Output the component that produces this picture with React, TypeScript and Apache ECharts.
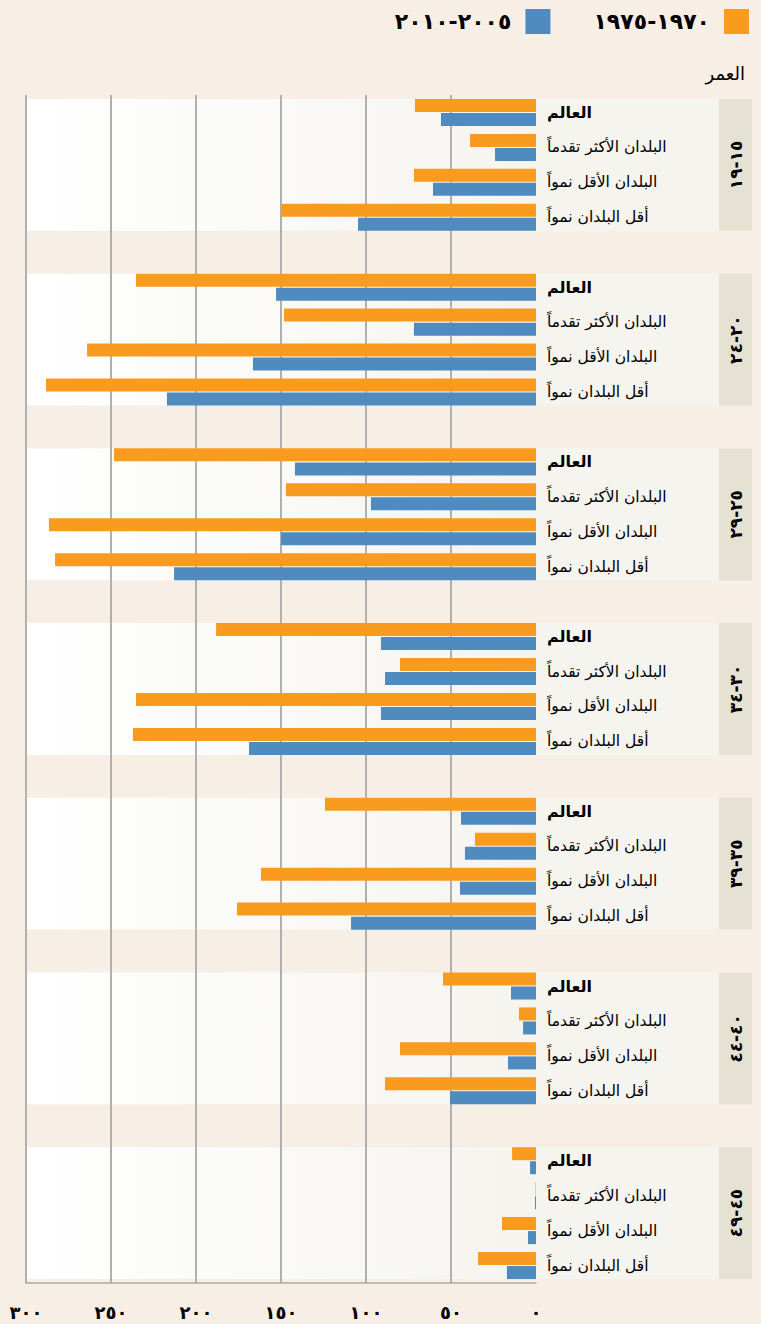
import React, { useEffect, useRef } from "react";
import * as echarts from "echarts";

const W = 761;
const H = 1324;

// Data
const categories = [
  "العالم",
  "البلدان الأكثر تقدماً",
  "البلدان الأقل نمواً",
  "أقل البلدان نمواً",
];
const ageStart = [15, 20, 25, 30, 35, 40, 45];
const ageEnd = [19, 24, 29, 34, 39, 44, 49];
const period1Name = "١٩٧٥\u200E-\u200E١٩٧٠";
const period2Name = "٢٠١٠\u200E-\u200E٢٠٠٥";
// per age group: [world, more developed, less developed, least developed]
const values1970 = [
  [71.2, 38.8, 71.8, 150.0],
  [235.3, 148.2, 264.1, 288.2],
  [248.2, 147.1, 286.5, 282.9],
  [188.2, 80.0, 235.3, 237.1],
  [124.1, 35.9, 161.8, 175.9],
  [54.7, 10.0, 80.0, 88.8],
  [14.1, 0.3, 20.0, 34.1],
];
const values2005 = [
  [55.9, 24.1, 60.6, 104.7],
  [152.9, 71.8, 166.5, 217.1],
  [141.8, 97.1, 150.0, 212.9],
  [91.2, 88.8, 91.2, 168.8],
  [44.1, 41.8, 44.7, 108.8],
  [14.7, 7.6, 16.5, 50.6],
  [3.5, 0.6, 4.7, 17.1],
];
const xTicks = [0, 50, 100, 150, 200, 250, 300];
const axisTitle = "العمر";

const AR_DIGITS = "٠١٢٣٤٥٦٧٨٩";
const toAr = (n: number | string) =>
  String(n).replace(/[0-9]/g, (d) => AR_DIGITS[Number(d)]);

// layout
const GRID_LEFT = 26;
const GRID_RIGHT_X = 536;
const GRID_TOP = 95;
const GRID_BOTTOM = 41;
const LABEL_END = 719;
const AGE_END = 752;
const FONT = "DejaVu Sans";

export default function App() {
  const ref = useRef<HTMLDivElement>(null);
  useEffect(() => {
    document.body.style.margin = "0";
    const chart = echarts.init(ref.current!, null, { renderer: "svg" });

    const rows: string[] = [];
    const d1: (number | null)[] = [];
    const d2: (number | null)[] = [];
    ageStart.forEach((_, g) => {
      categories.forEach((c, k) => {
        rows.push(c);
        d1.push(values1970[g][k]);
        d2.push(values2005[g][k]);
      });
      if (g < ageStart.length - 1) {
        rows.push(" ".repeat(g + 1));
        d1.push(null);
        d2.push(null);
      }
    });

    const gridH = H - GRID_TOP - GRID_BOTTOM;
    const slot = gridH / rows.length;

    const graphics: any[] = [];
    ageStart.forEach((s, g) => {
      const y0 = GRID_TOP + g * 5 * slot + 4;
      const h = 4 * slot - 8;
      graphics.push({
        type: "rect",
        z: -10,
        shape: { x: GRID_LEFT, y: y0, width: GRID_RIGHT_X - GRID_LEFT, height: h },
        style: {
          fill: new echarts.graphic.LinearGradient(0, 0, 1, 0, [
            { offset: 0, color: "#ffffff" },
            { offset: 1, color: "#f5f4ef" },
          ]),
        },
        silent: true,
      });
      graphics.push({
        type: "rect",
        z: -10,
        shape: { x: GRID_RIGHT_X, y: y0, width: LABEL_END - GRID_RIGHT_X, height: h },
        style: { fill: "#f5f4ef" },
        silent: true,
      });
      graphics.push({
        type: "rect",
        z: -10,
        shape: { x: LABEL_END, y: y0, width: AGE_END - LABEL_END, height: h },
        style: { fill: "#e5e2d3" },
        silent: true,
      });
      graphics.push({
        type: "text",
        z: 10,
        x: (LABEL_END + AGE_END) / 2,
        y: y0 + h / 2,
        rotation: Math.PI / 2,
        style: {
          text: toAr(ageEnd[g]) + "\u200E-\u200E" + toAr(s),
          fontFamily: FONT,
          fontSize: 17,
          fontWeight: "bold",
          fill: "#000",
          align: "center",
          verticalAlign: "middle",
        },
      });
    });
    graphics.push({
      type: "text",
      z: 10,
      x: 745,
      y: 73,
      style: {
        text: axisTitle,
        fontFamily: FONT,
        fontSize: 18,
        fill: "#000",
        align: "right",
        verticalAlign: "middle",
      },
    });

    chart.setOption({
      animation: false,
      backgroundColor: "#f7eee6",
      textStyle: { fontFamily: FONT },
      legend: {
        data: [period2Name, period1Name],
        right: 7,
        top: 4,
        itemWidth: 25,
        itemHeight: 25,
        itemGap: 43,
        align: "right",
        icon: "rect",
        textStyle: {
          fontFamily: FONT,
          fontSize: 22,
          fontWeight: "bold",
          color: "#000",
          padding: [0, 9, 0, 0],
        },
      },
      grid: {
        left: GRID_LEFT,
        right: W - GRID_RIGHT_X,
        top: GRID_TOP,
        bottom: GRID_BOTTOM,
        containLabel: false,
      },
      xAxis: {
        type: "value",
        min: xTicks[0],
        max: xTicks[xTicks.length - 1],
        interval: xTicks[1] - xTicks[0],
        inverse: true,
        position: "bottom",
        axisLine: { show: true, lineStyle: { color: "#aaaaaa", width: 1.5 } },
        axisTick: { show: false },
        splitLine: {
          show: true,
          showMinLine: false,
          lineStyle: { color: "#b0b0b0", width: 2 },
        },
        axisLabel: {
          formatter: (v: number) => toAr(v),
          fontFamily: FONT,
          fontSize: 18,
          fontWeight: "bold",
          color: "#000",
          margin: 20,
        },
      },
      yAxis: {
        type: "category",
        data: rows,
        inverse: true,
        position: "right",
        axisLine: { show: false },
        axisTick: { show: false },
        splitLine: { show: false },
        axisLabel: {
          interval: 0,
          align: "left",
          margin: 11,
          fontFamily: FONT,
          fontSize: 15.5,
          color: "#000",
          formatter: (v: string) => (v === categories[0] ? `{b|${v}}` : v),
          rich: {
            b: { fontFamily: FONT, fontSize: 16, fontWeight: "bold", color: "#000" },
          },
        },
      },
      series: [
        {
          name: period1Name,
          type: "bar",
          data: d1,
          barWidth: 13,
          barGap: "8%",
          itemStyle: { color: "#f99b1f" },
        },
        {
          name: period2Name,
          type: "bar",
          data: d2,
          barWidth: 13,
          barGap: "8%",
          itemStyle: { color: "#4f8bbf" },
        },
      ],
      graphic: graphics,
    });
    return () => chart.dispose();
  }, []);
  return <div ref={ref} style={{ width: W, height: H }} />;
}
